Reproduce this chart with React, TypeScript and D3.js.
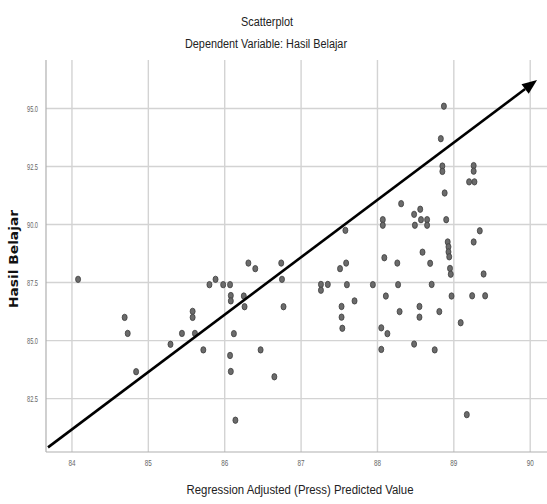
import React from "react";
import * as d3 from "d3";

// Regression Adjusted (Press) Predicted Value
const predicted = [
  84.08, 84.69, 84.73, 84.84, 85.29, 85.44, 85.58, 85.58, 85.61, 85.72,
  85.80, 85.88, 85.98, 86.07, 86.08, 86.08, 86.07, 86.08, 86.12, 86.14,
  86.25, 86.26, 86.31, 86.40, 86.47, 86.65, 86.74, 86.75, 86.77, 87.26,
  87.26, 87.35, 87.58, 87.59, 87.51, 87.60, 87.70, 87.53, 87.53, 87.54,
  87.94, 88.09, 88.07, 88.07, 88.11, 88.26, 88.27, 88.29, 88.05, 88.13,
  88.05, 88.31, 88.48, 88.56, 88.49, 88.57, 88.65, 88.65, 88.59, 88.69,
  88.71, 88.55, 88.55, 88.48, 88.75, 88.81, 88.87, 88.83, 88.85, 88.85,
  88.88, 88.90, 88.92, 88.93, 88.93, 88.94, 88.95, 88.96, 88.97, 89.09,
  89.17, 89.26, 89.26, 89.20, 89.27, 89.34, 89.26, 89.39, 89.24, 89.41,
];

// Hasil Belajar
const hasilBelajar = [
  87.64, 86.00, 85.31, 83.66, 84.84, 85.31, 86.26, 86.00, 85.31, 84.60,
  87.41, 87.64, 87.41, 87.41, 86.94, 86.71, 84.36, 83.67, 85.30, 81.57,
  86.92, 86.46, 88.34, 88.10, 84.60, 83.44, 88.34, 87.64, 86.46, 87.42,
  87.17, 87.42, 89.75, 88.34, 88.10, 87.41, 86.71, 86.47, 86.01, 85.53,
  87.41, 88.57, 90.21, 89.97, 86.92, 88.34, 87.41, 86.25, 85.55, 85.30,
  84.62, 90.90, 90.44, 90.66, 89.97, 90.21, 90.21, 89.97, 88.81, 88.33,
  87.42, 86.47, 86.01, 84.85, 84.60, 86.25, 95.10, 93.70, 92.52, 92.29,
  91.36, 90.21, 89.25, 89.04, 88.82, 88.61, 88.11, 87.86, 86.92, 85.77,
  81.81, 92.54, 92.30, 91.84, 91.84, 89.73, 89.25, 87.87, 86.93, 86.93,
];

const xTicks = [84, 85, 86, 87, 88, 89, 90];
const yTicks = [82.5, 85.0, 87.5, 90.0, 92.5, 95.0];

// Annotation arrow (data coordinates): start and end
const arrowX = [83.686, 90.09];
const arrowY = [80.4, 96.23];

const title = "Scatterplot";
const subtitle = "Dependent Variable: Hasil Belajar";
const xTitle = "Regression Adjusted (Press) Predicted Value";
const yTitle = "Hasil Belajar";

export default function App() {
  const W = 547;
  const H = 504;
  const left = 46;
  const right = 547;
  const top = 60;
  const bottom = 452;

  const x = d3.scaleLinear().domain([83.66, 90.22]).range([left, right]);
  const y = d3.scaleLinear().domain([80.2, 97.09]).range([bottom, top]);

  const font = "'Liberation Sans', Arial, sans-serif";

  const x1 = x(arrowX[0]);
  const y1 = y(arrowY[0]);
  const x2 = x(arrowX[1]);
  const y2 = y(arrowY[1]);
  const ang = Math.atan2(y2 - y1, x2 - x1);
  const headLen = 15;
  const headW = 6;
  const bx = x2 - headLen * Math.cos(ang);
  const by = y2 - headLen * Math.sin(ang);
  const px = -Math.sin(ang) * headW;
  const py = Math.cos(ang) * headW;

  return (
    <svg
      width={W}
      height={H}
      style={{ position: "fixed", left: 0, top: 0, background: "#fff" }}
    >
      <rect x={0} y={0} width={W} height={H} fill="#fff" />
      <text x={267} y={26} textAnchor="middle" fontFamily={font} fontSize={12.5} fill="#222"
        textLength={52} lengthAdjust="spacingAndGlyphs">
        {title}
      </text>
      <text x={266} y={48} textAnchor="middle" fontFamily={font} fontSize={12.5} fill="#222"
        textLength={162} lengthAdjust="spacingAndGlyphs">
        {subtitle}
      </text>

      {/* grid */}
      {yTicks.map((t) => (
        <line key={"gy" + t} x1={left} x2={right} y1={y(t)} y2={y(t)} stroke="#d3d3d3" strokeWidth={1.4} />
      ))}
      {xTicks.map((t) => (
        <line key={"gx" + t} x1={x(t)} x2={x(t)} y1={top} y2={bottom} stroke="#d3d3d3" strokeWidth={1.4} />
      ))}
      {/* axes */}
      <line x1={left} x2={left} y1={top} y2={bottom} stroke="#b0b0b0" strokeWidth={1.2} />
      <line x1={left} x2={right} y1={bottom} y2={bottom} stroke="#b0b0b0" strokeWidth={1.2} />

      {yTicks.map((t) => (
        <text key={"ty" + t} x={38} y={y(t) + 3} textAnchor="end" fontFamily={font} fontSize={8.5} fill="#666"
          textLength={11} lengthAdjust="spacingAndGlyphs">
          {t.toFixed(1)}
        </text>
      ))}
      {xTicks.map((t) => (
        <text key={"tx" + t} x={x(t)} y={466} textAnchor="middle" fontFamily={font} fontSize={8.5} fill="#666"
          textLength={7} lengthAdjust="spacingAndGlyphs">
          {t}
        </text>
      ))}

      <text x={300} y={494} textAnchor="middle" fontFamily={font} fontSize={12.5} fill="#222"
        textLength={227} lengthAdjust="spacingAndGlyphs">
        {xTitle}
      </text>
      <text
        transform={`translate(18,259) rotate(-90)`}
        textAnchor="middle"
        fontFamily="'DejaVu Sans', Verdana, sans-serif"
        fontWeight="bold"
        fontSize={11.5}
        fill="#111"
        textLength={98}
        lengthAdjust="spacingAndGlyphs"
      >
        {yTitle}
      </text>

      {/* points */}
      {predicted.map((v, i) => (
        <ellipse
          key={"p" + i}
          cx={x(v)}
          cy={y(hasilBelajar[i])}
          rx={2.5}
          ry={3.2}
          fill="#6b6b6b"
          stroke="#3e3e3e"
          strokeWidth={0.8}
        />
      ))}

      {/* arrow */}
      <line x1={x1} y1={y1} x2={bx} y2={by} stroke="#000" strokeWidth={2.6} />
      <polygon
        points={`${x2},${y2} ${bx + px},${by + py} ${bx - px},${by - py}`}
        fill="#000"
      />
    </svg>
  );
}
